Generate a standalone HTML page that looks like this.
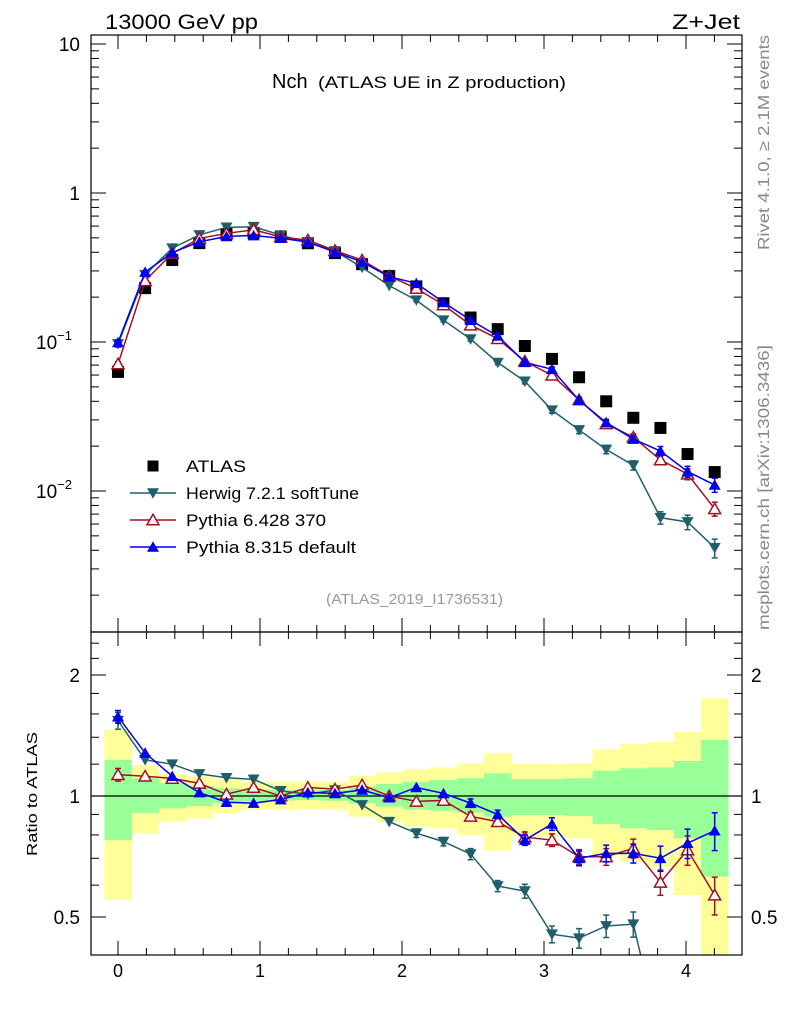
<!DOCTYPE html>
<html><head><meta charset="utf-8"><style>
html,body{margin:0;padding:0;background:#fff;}
svg{display:block;font-family:"Liberation Sans",sans-serif;}
</style></head><body>
<svg id="chart" width="786" height="1024" viewBox="0 0 786 1024" xmlns="http://www.w3.org/2000/svg">
<g id="bands"></g>
<g id="marks"></g>
<g id="axes"></g>
<text x="105" y="29" font-size="21" textLength="153" lengthAdjust="spacingAndGlyphs">13000 GeV pp</text>
<text x="672" y="29" font-size="21" textLength="68" lengthAdjust="spacingAndGlyphs">Z+Jet</text>
<text x="272" y="88" font-size="20">Nch</text>
<text x="318" y="88" font-size="17" textLength="248" lengthAdjust="spacingAndGlyphs">(ATLAS UE in Z production)</text>
<text x="326" y="604" font-size="15" fill="#999" textLength="177" lengthAdjust="spacingAndGlyphs">(ATLAS_2019_I1736531)</text>
<text transform="translate(769,250) rotate(-90)" font-size="16" fill="#888" textLength="215" lengthAdjust="spacingAndGlyphs">Rivet 4.1.0, ≥ 2.1M events</text>
<text transform="translate(769,630) rotate(-90)" font-size="16" fill="#888" textLength="285" lengthAdjust="spacingAndGlyphs">mcplots.cern.ch [arXiv:1306.3436]</text>
<text transform="translate(37,856) rotate(-90)" font-size="15" textLength="124" lengthAdjust="spacingAndGlyphs">Ratio to ATLAS</text>
<g id="legend"></g>
</svg>
<script>
// ---- data ----
const xs = [0,0.191,0.382,0.573,0.764,0.955,1.146,1.337,1.528,1.719,1.91,2.101,2.292,2.483,2.674,2.865,3.056,3.247,3.438,3.629,3.82,4.011,4.202];
const atlas = [0.063,0.230,0.355,0.461,0.53,0.54,0.507,0.46,0.395,0.333,0.277,0.236,0.182,0.146,0.122,0.094,0.077,0.058,0.040,0.031,0.0265,0.0177,0.0134];
const ratioHerwig = [1.54,1.23,1.20,1.135,1.11,1.10,1.03,1.01,1.035,0.95,0.863,0.808,0.77,0.717,0.597,0.58,0.453,0.443,0.475,0.48,0.25,0.35,0.31];
const ratioPy6 = [1.13,1.12,1.106,1.075,1.01,1.05,1.0,1.05,1.04,1.065,1.0,0.97,0.975,0.89,0.863,0.79,0.777,0.706,0.706,0.741,0.61,0.734,0.567];
const ratioPy8 = [1.575,1.28,1.12,1.02,0.965,0.96,0.98,1.02,1.015,1.035,0.99,1.05,1.015,0.96,0.90,0.777,0.852,0.70,0.72,0.72,0.70,0.763,0.82];
const relErr = [0.03,0.01,0.01,0.01,0.01,0.01,0.01,0.01,0.01,0.01,0.01,0.015,0.015,0.02,0.02,0.025,0.03,0.035,0.04,0.045,0.06,0.07,0.09];
const bandYUp = [1.46,1.194,1.134,1.117,1.100,1.085,1.085,1.085,1.085,1.121,1.145,1.165,1.178,1.206,1.277,1.201,1.201,1.206,1.307,1.345,1.363,1.443,1.75];
const bandYDn = [0.551,0.807,0.863,0.880,0.906,0.923,0.923,0.927,0.923,0.888,0.863,0.839,0.831,0.800,0.731,0.792,0.792,0.785,0.713,0.687,0.665,0.567,0.40];
const bandGUp = [1.229,1.107,1.075,1.059,1.045,1.039,1.035,1.035,1.035,1.055,1.071,1.085,1.096,1.107,1.139,1.102,1.102,1.107,1.156,1.172,1.178,1.222,1.378];
const bandGDn = [0.777,0.906,0.932,0.944,0.959,0.968,0.973,0.977,0.973,0.959,0.941,0.927,0.919,0.909,0.888,0.897,0.897,0.892,0.852,0.831,0.823,0.785,0.630];
const xTickLabels = ["0","1","2","3","4"];
const yMainLabels = ["10","1","10","10"];
const ratioTickLabels = ["2","1","0.5"];
const binW = 0.191;
// ---- geometry ----
const L=91,R=742,T=35,MB=632,RB=955;
const X = v => 118 + 142*v;
const Ym = v => 193 - 149*Math.log10(v);
const Yr = v => 796 - 121*Math.log2(v);
const NS="http://www.w3.org/2000/svg";
function mk(tag, attrs, parent){const e=document.createElementNS(NS,tag);for(const k in attrs)e.setAttribute(k,attrs[k]);parent.appendChild(e);return e;}
const bands=document.getElementById('bands'), marks=document.getElementById('marks'), axes=document.getElementById('axes'), legend=document.getElementById('legend');
function drawBand(up,dn,color,name){
  xs.forEach((x,i)=>{
    let y1=Math.max(Yr(up[i]),MB), y2=Math.min(Yr(dn[i]),RB);
    const r=mk('rect',{x:X(x-binW/2),y:y1,width:X(x+binW/2)-X(x-binW/2)+0.3,height:y2-y1,fill:color},bands);
    
    
  });
}
drawBand(bandYUp,bandYDn,'#ffff99','band-total');
drawBand(bandGUp,bandGDn,'#99ff99','band-stat');
const one=mk('line',{x1:L,x2:R,y1:Yr(1),y2:Yr(1),stroke:'#000','stroke-width':1.2},bands);


function marker(type,cx,cy,color,parent,s){
  s=s||6;let e;
  if(type==='sq') e=mk('rect',{x:cx-s,y:cy-s,width:2*s,height:2*s,fill:'#000'},parent);
  else if(type==='down') e=mk('polygon',{points:`${cx-s},${cy-s*0.8} ${cx+s},${cy-s*0.8} ${cx},${cy+s*0.95}`,fill:color},parent);
  else if(type==='up') e=mk('polygon',{points:`${cx-s},${cy+s*0.8} ${cx+s},${cy+s*0.8} ${cx},${cy-s*0.95}`,fill:color},parent);
  else e=mk('polygon',{points:`${cx-s},${cy+s*0.8} ${cx+s},${cy+s*0.8} ${cx},${cy-s*0.95}`,fill:'#fff',stroke:color,'stroke-width':1.5},parent);
  return e;
}
const defs=mk('defs',{},document.getElementById('chart'));
const c1=mk('clipPath',{id:'cm'},defs); mk('rect',{x:L,y:T,width:R-L,height:MB-T},c1);
const c2=mk('clipPath',{id:'cr'},defs); mk('rect',{x:L,y:MB,width:R-L,height:RB-MB},c2);
const gm=mk('g',{'clip-path':'url(#cm)'},marks), gr=mk('g',{'clip-path':'url(#cr)'},marks);
atlas.forEach((v,i)=>{
  const m=marker('sq',X(xs[i]),Ym(v),'#000',gm,6);
  
  
});
const series=[
  {r:ratioHerwig,color:'#1f5f6b',type:'down',name:'herwig'},
  {r:ratioPy6,color:'#a50f25',type:'open',name:'pythia6'},
  {r:ratioPy8,color:'#0000ee',type:'up',name:'pythia8'}
];
series.forEach(s=>{
  const vals=s.r.map((r,i)=>r*atlas[i]);
  const pm=mk('polyline',{points:vals.map((v,i)=>X(xs[i])+','+Ym(v)).join(' '),fill:'none',stroke:s.color,'stroke-width':1.5},gm);
  
  
  const pr=mk('polyline',{points:s.r.map((v,i)=>X(xs[i])+','+Yr(v)).join(' '),fill:'none',stroke:s.color,'stroke-width':1.5},gr);
  
  
  vals.forEach((v,i)=>{
    const e=relErr[i]*(s.name==='herwig'?1.6:1.2);
    const x=X(xs[i]);
    [[gm,Ym,v],[gr,Yr,s.r[i]]].forEach(([g,Y,val])=>{
      if(e>0.02){
        mk('line',{x1:x,x2:x,y1:Y(val*(1+e)),y2:Y(val*(1-e)),stroke:s.color,'stroke-width':1.5},g);
        mk('line',{x1:x-3,x2:x+3,y1:Y(val*(1+e)),y2:Y(val*(1+e)),stroke:s.color,'stroke-width':1.5},g);
        mk('line',{x1:x-3,x2:x+3,y1:Y(val*(1-e)),y2:Y(val*(1-e)),stroke:s.color,'stroke-width':1.5},g);
      }
      const m=marker(s.type,x,Y(val),s.color,g,6);
      
      
    });
  });
});
[[T,MB],[MB,RB]].forEach(([a,b])=>{
  const f=mk('rect',{x:L,y:a,width:R-L,height:b-a,fill:'none',stroke:'#000','stroke-width':1.2},axes);
  
  
});
for(let k=-1;k<=22;k++){
  const v=k*0.2, x=X(v); if(x<L||x>R) continue;
  const maj = k%5===0, len=maj?14:7;
  [[T,1],[MB,-1],[MB,1],[RB,-1]].forEach(([y,d])=>mk('line',{x1:x,x2:x,y1:y,y2:y+d*len,stroke:'#000','stroke-width':1},axes));
}
xTickLabels.forEach((t,i)=>{
  const e=mk('text',{x:X(i),y:977,'font-size':18,'text-anchor':'middle'},axes); e.textContent=t;
  
  
});
for(let d=-3;d<=1;d++){
  for(let m=1;m<=9;m++){
    const v=m*Math.pow(10,d), y=Ym(v); if(y<T||y>MB) continue;
    const len=m===1?15:8;
    mk('line',{x1:L,x2:L+len,y1:y,y2:y,stroke:'#000'},axes);
    mk('line',{x1:R,x2:R-len,y1:y,y2:y,stroke:'#000'},axes);
  }
}
[[10,''],[1,''],[0.1,'−1'],[0.01,'−2']].forEach(([v,ex],i)=>{
  const e=mk('text',{x:ex?72:80,y:Ym(v)+7,'font-size':19,'text-anchor':'end'},axes);
  e.textContent=yMainLabels[i];
  if(ex){const ts=mk('tspan',{dy:-9,'font-size':13},e);ts.textContent=ex;}
  
  
});
[0.5,0.6,0.7,0.8,0.9,1,1.2,1.4,1.6,1.8,2,2.2,2.4].forEach(v=>{
  const y=Yr(v); if(y<MB||y>RB) return;
  const len=(v===0.5||v===1||v===2)?15:8;
  mk('line',{x1:L,x2:L+len,y1:y,y2:y,stroke:'#000'},axes);
  mk('line',{x1:R,x2:R-len,y1:y,y2:y,stroke:'#000'},axes);
});
[2,1,0.5].forEach((v,i)=>{
  const a=mk('text',{x:80,y:Yr(v)+7,'font-size':19,'text-anchor':'end'},axes); a.textContent=ratioTickLabels[i];
  
  
  const b=mk('text',{x:751,y:Yr(v)+7,'font-size':19},axes); b.textContent=ratioTickLabels[i];
  
  
});
const leg=[['sq','#000','ATLAS',60],['down','#1f5f6b','Herwig 7.2.1 softTune',173],['open','#a50f25','Pythia 6.428 370',140],['up','#0000ee','Pythia 8.315 default',170]];
leg.forEach(([t,c,label,w],i)=>{
  const y=466+i*27;
  const g=mk('g',{},legend);
  
  
  if(t!=='sq') mk('line',{x1:130,x2:176,y1:y,y2:y,stroke:c,'stroke-width':1.5},g);
  marker(t,153,y,c,g,t==='sq'?5.5:6);
  const tx=mk('text',{x:186,y:y+6,'font-size':17,textLength:w,lengthAdjust:'spacingAndGlyphs'},g); tx.textContent=label;
});
</script>
</body></html>
